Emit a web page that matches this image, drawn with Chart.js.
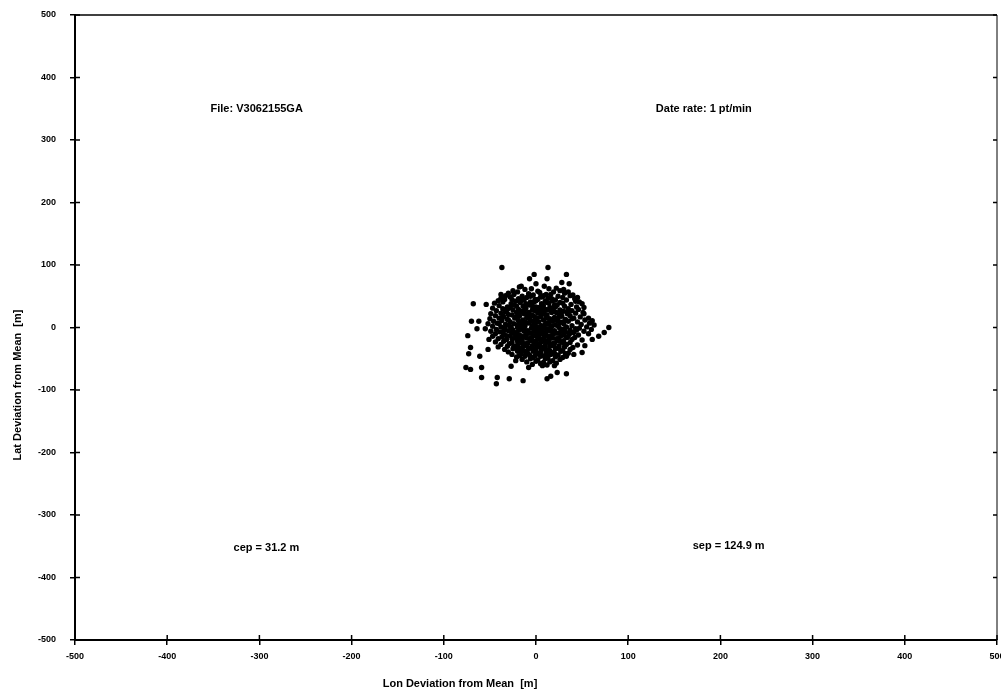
<!DOCTYPE html>
<html>
<head>
<meta charset="utf-8">
<script src="https://cdn.jsdelivr.net/npm/chart.js@4/dist/chart.umd.min.js"></script>
<style>
  body { margin: 0; background: #fff; }
  #wrap { width: 1001px; height: 696px; position: relative; }
</style>
</head>
<body>
<div id="wrap"><canvas id="myChart"></canvas></div>
<script>
// axis ticks
const lonTicks = [-500, -400, -300, -200, -100, 0, 100, 200, 300, 400, 500];
const latTicks = [-500, -400, -300, -200, -100, 0, 100, 200, 300, 400, 500];

// annotation texts, placed in data coordinates (left edge of text)
const noteTexts = ['File: V3062155GA', 'Date rate: 1 pt/min', 'cep = 31.2 m', 'sep = 124.9 m'];
const noteLon = [-353, 130, -328, 170];
const noteLat = [350, 350, -352, -350];

// [lon, lat] deviations from mean in metres
const clusterPoints = [
  [-18,65],[-5,62],[9,66],[22,63],[30,61],
  [-25,59],[-12,61],[2,58],[14,62],[26,59],[35,57],
  [-30,55],[-20,57],[-8,54],[4,56],[11,53],[19,57],[31,55],[40,52],
  [-33,51],[-24,53],[-15,50],[-3,52],[7,49],[16,53],[24,50],[37,51],[45,48],
  [-38,47],[-28,49],[-19,46],[-10,48],[-1,45],[5,49],[13,47],[21,44],[29,48],[42,46],
  [-41,43],[-34,45],[-22,42],[-13,44],[-6,41],[2,45],[10,42],[18,43],[26,40],[33,44],[47,41],
  [-45,39],[-36,41],[-27,38],[-17,40],[-9,37],[-2,41],[6,38],[12,40],[20,36],[29,39],[38,37],[50,38],
  [-40,35],[-31,33],[-24,36],[-14,34],[-7,36],[0,33],[8,35],[15,32],[23,36],[31,34],[44,33],
  [-47,31],[-36,30],[-28,32],[-19,29],[-11,31],[-4,28],[3,32],[11,29],[18,31],[26,28],[35,30],[46,29],
  [-43,27],[-33,25],[-25,28],[-16,26],[-8,24],[-1,27],[7,25],[14,28],[22,24],[30,26],[39,27],[51,24],
  [-49,22],[-38,23],[-30,21],[-21,24],[-13,22],[-5,20],[2,23],[10,21],[17,24],[25,20],[34,22],[43,23],
  [-44,19],[-35,17],[-26,20],[-18,18],[-10,16],[-3,19],[5,17],[12,20],[20,16],[28,18],[37,19],[48,17],[57,15],
  [-50,14],[-40,15],[-31,13],[-23,15],[-14,12],[-7,14],[1,15],[8,12],[15,14],[23,11],[32,13],[41,15],[53,12],
  [-46,10],[-37,11],[-28,9],[-19,11],[-11,8],[-4,10],[3,9],[11,7],[18,10],[26,8],[35,10],[45,9],[58,7],
  [-52,6],[-42,7],[-33,5],[-24,6],[-16,4],[-8,7],[-1,5],[6,3],[14,6],[21,4],[30,6],[39,3],[49,5],[63,4],
  [-47,2],[-38,1],[-29,3],[-20,0],[-12,2],[-5,-1],[2,1],[9,-1],[17,2],[25,0],[33,1],[43,-2],[55,1],
  [-55,-2],[-43,-3],[-34,-1],[-25,-4],[-17,-2],[-9,-5],[-2,-3],[5,-4],[13,-2],[20,-5],[28,-3],[37,-4],[47,-1],[60,-3],
  [-49,-6],[-39,-7],[-30,-5],[-21,-8],[-13,-6],[-6,-9],[1,-7],[8,-8],[16,-6],[24,-9],[32,-7],[41,-8],[52,-6],
  [-44,-10],[-35,-11],[-26,-9],[-18,-12],[-10,-10],[-3,-13],[4,-11],[11,-12],[19,-10],[27,-13],[36,-11],[46,-12],[57,-10],
  [-47,-14],[-37,-15],[-28,-13],[-20,-16],[-12,-14],[-5,-17],[2,-15],[9,-16],[17,-14],[25,-17],[33,-15],[42,-16],
  [-41,-18],[-32,-19],[-23,-17],[-15,-20],[-7,-18],[0,-21],[7,-19],[14,-20],[22,-18],[30,-21],[39,-19],[50,-20],
  [-44,-23],[-35,-22],[-26,-24],[-17,-22],[-9,-25],[-2,-23],[5,-24],[12,-22],[20,-25],[28,-23],[37,-24],
  [-38,-27],[-29,-26],[-20,-28],[-12,-26],[-4,-29],[3,-27],[10,-28],[18,-26],[25,-29],[33,-27],[45,-28],
  [-41,-31],[-31,-30],[-22,-32],[-14,-30],[-6,-33],[1,-31],[8,-32],[15,-30],[23,-33],[31,-31],[40,-32],
  [-34,-35],[-25,-34],[-16,-36],[-8,-34],[-1,-37],[6,-35],[13,-36],[21,-34],[29,-37],[37,-35],
  [-30,-39],[-20,-38],[-11,-40],[-3,-38],[4,-41],[11,-39],[19,-40],[27,-38],[35,-41],
  [-26,-43],[-16,-42],[-7,-44],[1,-42],[9,-45],[16,-43],[24,-44],[32,-42],
  [-21,-47],[-12,-46],[-3,-48],[5,-46],[13,-49],[21,-47],[29,-48],
  [-15,-51],[-6,-50],[2,-52],[10,-50],[18,-53],[26,-51],
  [-10,-55],[0,-54],[8,-56],[15,-55],[22,-57],
  [-4,-59],[5,-58],[12,-60],
  // denser centre
  [-15,46],[-6,50],[8,51],[17,46],[-26,45],[0,43],[14,39],[-11,38],[-21,34],[-4,35],[6,30],[21,33],
  [-31,29],[-12,29],[3,26],[19,27],[35,25],[-18,23],[-8,21],[7,22],[27,22],[-36,19],[-22,17],[-1,16],
  [11,15],[24,15],[39,14],[-30,12],[-15,9],[0,11],[15,11],[29,9],[-40,6],[-20,4],[-4,3],[10,5],[24,3],
  [-27,0],[-13,-1],[1,0],[16,-1],[31,-2],[-35,-5],[-18,-4],[-2,-6],[12,-5],[27,-6],[44,-4],[-23,-10],
  [-7,-9],[7,-10],[22,-9],[38,-8],[-32,-13],[-16,-14],[0,-13],[14,-14],[30,-12],[-26,-18],[-10,-17],
  [4,-18],[18,-17],[34,-16],[-20,-22],[-5,-21],[9,-21],[24,-21],[-15,-25],[0,-26],[14,-24],[30,-25],
  [-24,-30],[-10,-29],[4,-30],[19,-29],[-18,-33],[-4,-32],[10,-33],[25,-33],[-13,-37],[0,-36],[15,-37],
  [-9,-41],[5,-40],[20,-41],[-1,-45],[12,-44],
  // scattered outer points
  [-37,96],[13,96],[33,85],[-2,85],[-7,78],[28,72],[36,70],[12,78],[-16,66],[0,70],
  [-68,38],[-54,37],[-38,53],[43,42],[52,32],[52,22],[61,11],[79,0],[74,-8],[68,-14],[61,-19],
  [-74,-13],[-70,10],[-62,10],[-64,-2],[-51,-19],[-71,-32],[-73,-42],[-61,-46],[-52,-35],
  [-76,-64],[-71,-67],[-59,-64],[-59,-80],[-42,-80],[-43,-90],[-29,-82],[-14,-85],[12,-82],[16,-78],
  [23,-72],[33,-74],[33,-46],[41,-43],[50,-40],[53,-29],[-27,-62],[-8,-64],[7,-61],[20,-61],
  [-18,-45],[-22,-53]
];

const ctx = document.getElementById('myChart').getContext('2d');

// inward tick marks + frame + free text
const extrasPlugin = {
  id: 'extras',
  afterDraw(chart) {
    const c = chart.ctx;
    const a = chart.chartArea;
    const xs = chart.scales.x;
    const ys = chart.scales.y;
    c.save();
    c.strokeStyle = '#000';
    // top and right frame
    c.lineWidth = 1.5;
    c.beginPath();
    c.moveTo(a.left, a.top); c.lineTo(a.right, a.top);
    c.stroke();
    c.lineWidth = 1;
    c.beginPath();
    c.moveTo(a.right, a.top); c.lineTo(a.right, a.bottom);
    c.stroke();
    // inward ticks
    c.lineWidth = 1.5;
    c.beginPath();
    lonTicks.forEach(v => {
      const px = xs.getPixelForValue(v);
      c.moveTo(px, a.bottom); c.lineTo(px, a.bottom - 5);
    });
    latTicks.forEach(v => {
      const py = ys.getPixelForValue(v);
      c.moveTo(a.left, py); c.lineTo(a.left + 5, py);
      c.moveTo(a.right, py); c.lineTo(a.right - 4, py);
    });
    c.stroke();
    // notes
    c.fillStyle = '#000';
    c.font = 'bold 11px "Liberation Sans", Arial, sans-serif';
    c.textBaseline = 'middle';
    c.textAlign = 'left';
    noteTexts.forEach((t, i) => {
      c.fillText(t, xs.getPixelForValue(noteLon[i]), ys.getPixelForValue(noteLat[i]));
    });
    // axis titles
    c.textAlign = 'center';
    c.fillText('Lon Deviation from Mean  [m]', 460, 684);
    c.translate(18, 385);
    c.rotate(-Math.PI / 2);
    c.fillText('Lat Deviation from Mean  [m]', 0, 0);
    c.restore();
  }
};

const tickFont = { family: '"Liberation Sans", Arial, sans-serif', size: 9, weight: 'bold' };

const chart = new Chart(ctx, {
  type: 'scatter',
  data: {
    datasets: [{
      data: clusterPoints.map(p => ({ x: p[0], y: p[1] })),
      backgroundColor: '#000',
      borderColor: '#000',
      borderWidth: 0,
      pointRadius: 2.7
    }]
  },
  options: {
    responsive: true,
    maintainAspectRatio: false,
    animation: false,
    layout: { padding: { top: 15, right: 4, left: 0, bottom: 0 } },
    plugins: {
      legend: { display: false },
      tooltip: { enabled: false }
    },
    scales: {
      x: {
        type: 'linear',
        min: -500,
        max: 500,
        afterFit: s => { s.height = 56; s.paddingLeft = 0; s.paddingRight = 0; },
        afterBuildTicks: s => { s.ticks = lonTicks.map(v => ({ value: v })); },
        ticks: { color: '#000', font: tickFont, padding: 6, maxRotation: 0 },
        grid: { drawOnChartArea: false, tickLength: 5, color: '#000', lineWidth: 1.5 },
        border: { color: '#000', width: 2 }
      },
      y: {
        type: 'linear',
        min: -500,
        max: 500,
        afterFit: s => { s.width = 75; s.paddingTop = 0; s.paddingBottom = 0; },
        afterBuildTicks: s => { s.ticks = latTicks.map(v => ({ value: v })); },
        ticks: { color: '#000', font: tickFont, padding: 14 },
        grid: { drawOnChartArea: false, tickLength: 5, color: '#000', lineWidth: 1.5 },
        border: { color: '#000', width: 2 }
      }
    }
  },
  plugins: [extrasPlugin]
});
</script>
</body>
</html>
